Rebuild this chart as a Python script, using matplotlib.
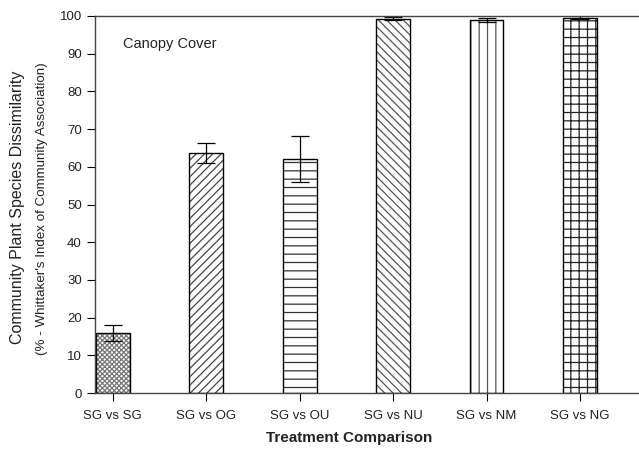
import numpy as np
import matplotlib
matplotlib.use("Agg")
import matplotlib.pyplot as plt

plt.rcParams['font.family'] = ['Liberation Sans', 'DejaVu Sans']
plt.rcParams['hatch.linewidth'] = 0.9

comparisons = ["SG vs SG", "SG vs OG", "SG vs OU", "SG vs NU", "SG vs NM", "SG vs NG"]
dissimilarity = [15.9, 63.6, 62.2, 99.3, 99.0, 99.6]
std_err = [2.2, 2.7, 6.1, 0.4, 0.5, 0.3]
hatches = ["xxxxxxx", "////", "--", "\\\\\\\\", "||", "++"]
hatch_colors = ["#777777", "#444444", "#333333", "#555555", "#555555", "#222222"]

fig = plt.figure(figsize=(6.39, 4.5), dpi=100)
ax = fig.add_axes([95/639, 57/450, 544/639, 377/450])

x = np.arange(len(comparisons))
for i in range(len(comparisons)):
    # hatch layer in grey, then a black outline on top
    ax.bar(x[i], dissimilarity[i], width=0.36, color="white",
           edgecolor=hatch_colors[i], linewidth=0, hatch=hatches[i])
    ax.bar(x[i], dissimilarity[i], width=0.36, color="none",
           edgecolor="black", linewidth=1.0)
ax.errorbar(x, dissimilarity, yerr=std_err, fmt="none", ecolor="black",
            elinewidth=0.9, capsize=6.8, capthick=0.9)

ax.set_xlim(-0.19, 5.63)
ax.set_ylim(0, 100)
ax.set_yticks(range(0, 101, 10))
ax.set_xticks(x)
ax.set_xticklabels(comparisons, fontsize=9.5, color="#222222")
ax.tick_params(axis="y", labelsize=9.5, labelcolor="#222222", length=6, direction="out")
ax.tick_params(axis="x", length=6, direction="out", pad=6)

ax.spines["right"].set_visible(False)
for s in ["top", "bottom", "left"]:
    ax.spines[s].set_color("#444444")
    ax.spines[s].set_linewidth(1.0)

ax.text(0.051, 0.926, "Canopy Cover", transform=ax.transAxes, fontsize=10.5,
        color="#222222", va="center")

fig.text(18/639, 1 - 207/450, "Community Plant Species Dissimilarity", rotation=90,
         ha="center", va="center", fontsize=11.5, color="#222222")
fig.text(42/639, 1 - 209/450, "(% - Whittaker's Index of Community Association)", rotation=90,
         ha="center", va="center", fontsize=9.6, color="#222222")
fig.text(349/639, 1 - 438/450, "Treatment Comparison", ha="center", va="center",
         fontsize=11, fontweight="bold", color="#222222")

fig.savefig("out.png", dpi=100)
